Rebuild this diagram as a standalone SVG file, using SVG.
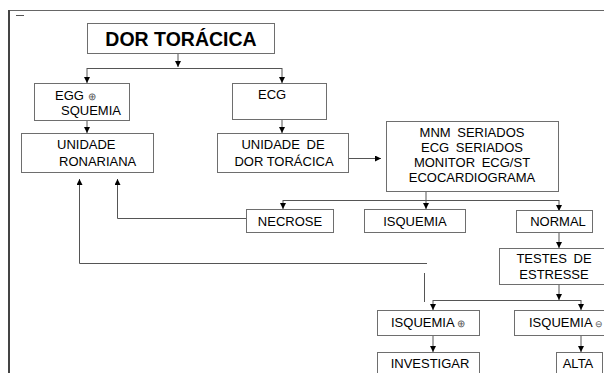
<svg xmlns="http://www.w3.org/2000/svg" width="604" height="373" viewBox="0 0 604 373">
<defs>
<marker id="ah" markerUnits="userSpaceOnUse" markerWidth="7" markerHeight="7" refX="6" refY="3" orient="auto">
<path d="M0,0 L6,3 L0,6 z" fill="#000"/>
</marker>
<style>
.box{fill:#fff;stroke:#6e6e6e;stroke-width:1}
.t{font-family:"Liberation Sans",Arial,sans-serif;font-size:13px;fill:#000}
.c{text-anchor:middle}
.ws{word-spacing:3px}
.sym{font-size:10px;fill:#555}
.ln{fill:none;stroke:#555;stroke-width:1}
.ar{fill:none;stroke:#555;stroke-width:1;marker-end:url(#ah)}
</style>
</defs>
<rect x="0" y="0" width="604" height="373" fill="#fff"/>
<g id="frame">
<line x1="8" y1="10.5" x2="604" y2="10.5" stroke="#666" stroke-width="1"/>
<line x1="9" y1="10" x2="9" y2="373" stroke="#444" stroke-width="2"/>
<line x1="16" y1="15.5" x2="24" y2="15.5" stroke="#555" stroke-width="1"/>
</g>
<g id="connectors">
<path class="ar" d="M178,53 V67"/>
<path class="ln" d="M87,68.5 H282"/>
<path class="ar" d="M87,68 V83"/>
<path class="ar" d="M282,68 V83"/>
<path class="ar" d="M87,121 V133"/>
<path class="ar" d="M282,119 V133"/>
<path class="ar" d="M349,158.5 H381"/>
<path class="ar" d="M426,192 V209"/>
<path class="ln" d="M283,200.5 H559"/>
<path class="ar" d="M283,200 V209"/>
<path class="ar" d="M559,200 V211"/>
<path class="ar" d="M559,233 V248"/>
<path class="ar" d="M559,285 V300"/>
<path class="ln" d="M433,300.5 H581"/>
<path class="ar" d="M433,300 V310"/>
<path class="ar" d="M581,300 V310"/>
<path class="ar" d="M433,336 V352"/>
<path class="ar" d="M581,336 V352"/>
<path class="ar" d="M246,218.5 H117.5 V179"/>
<path class="ar" d="M427,263.5 H79.5 V179"/>
<path class="ln" d="M424.5,273 V302"/>
</g>
<g id="dor-toracica">
<rect class="box" x="87.5" y="23.5" width="187" height="30"/>
<text class="t c" x="181" y="45.5" style="font-size:19.5px;font-weight:bold">DOR TORÁCICA</text>
</g>
<g id="egg-isquemia">
<rect class="box" x="34.5" y="83.5" width="95" height="37"/>
<text class="t" x="55" y="99.5">EGG <tspan class="sym">⊕</tspan></text>
<text class="t" x="61" y="115">SQUEMIA</text>
</g>
<g id="ecg">
<rect class="box" x="232.5" y="83.5" width="94" height="36"/>
<text class="t" x="258" y="99">ECG</text>
</g>
<g id="unidade-coronariana">
<rect class="box" x="21.5" y="133.5" width="132" height="39"/>
<text class="t" x="57" y="149">UNIDADE</text>
<text class="t" x="59" y="166">RONARIANA</text>
</g>
<g id="unidade-dor-toracica">
<rect class="box" x="217.5" y="133.5" width="131" height="39"/>
<text class="t c ws" x="283" y="149">UNIDADE DE</text>
<text class="t c" x="284" y="166">DOR TORÁCICA</text>
</g>
<g id="exames">
<rect class="box" x="386.5" y="121.5" width="172" height="70"/>
<text class="t c ws" x="472" y="136.5">MNM SERIADOS</text>
<text class="t c ws" x="472" y="151.5">ECG SERIADOS</text>
<text class="t c ws" x="472" y="166.5">MONITOR ECG/ST</text>
<text class="t c" x="472" y="181.5">ECOCARDIOGRAMA</text>
</g>
<g id="necrose">
<rect class="box" x="246.5" y="209.5" width="87" height="23"/>
<text class="t c" x="290" y="225.5">NECROSE</text>
</g>
<g id="isquemia">
<rect class="box" x="364.5" y="209.5" width="101" height="23"/>
<text class="t c" x="415" y="225.5">ISQUEMIA</text>
</g>
<g id="normal">
<rect class="box" x="516.5" y="210.5" width="76" height="22"/>
<text class="t c" x="558" y="226">NORMAL</text>
</g>
<g id="testes-estresse">
<rect class="box" x="499.5" y="248.5" width="110" height="36"/>
<text class="t c ws" x="554" y="263">TESTES DE</text>
<text class="t c" x="554" y="279">ESTRESSE</text>
</g>
<g id="isquemia-positiva">
<rect class="box" x="377.5" y="310.5" width="102" height="25"/>
<text class="t" x="391" y="327">ISQUEMIA <tspan class="sym">⊕</tspan></text>
</g>
<g id="isquemia-negativa">
<rect class="box" x="514.5" y="310.5" width="95" height="25"/>
<text class="t" x="529" y="327">ISQUEMIA <tspan class="sym" style="font-size:8.5px">⊖</tspan></text>
</g>
<g id="investigar">
<rect class="box" x="377.5" y="352.5" width="102" height="30"/>
<text class="t c" x="430" y="367.5">INVESTIGAR</text>
</g>
<g id="alta">
<rect class="box" x="556.5" y="352.5" width="46" height="30"/>
<text class="t c" x="578" y="367.5">ALTA</text>
</g>
</svg>
